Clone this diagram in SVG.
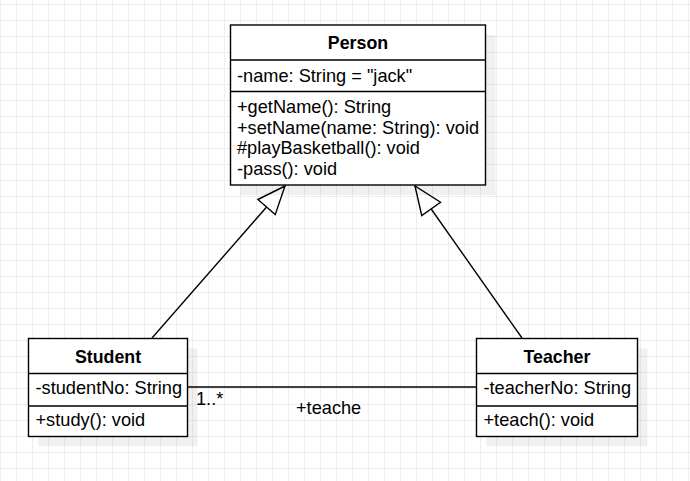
<svg xmlns="http://www.w3.org/2000/svg" width="690" height="481" viewBox="0 0 690 481">
<style>
text{font-family:"Liberation Sans",Arial,sans-serif;font-size:18.2px;fill:#000}
.b{font-weight:bold;text-anchor:middle;font-size:17.8px}
.box{fill:#fff;stroke:#000;stroke-width:1.4}
.sep{stroke:#000;stroke-width:1.4}
.sh{fill:#000;opacity:0.06}
.edge{fill:none;stroke:#000;stroke-width:1.4}
</style>
<defs>
<pattern id="grid" width="16" height="16" x="0" y="4" patternUnits="userSpaceOnUse">
<path d="M0 0.5H16M0.5 0V16" stroke="#eeeeee" stroke-width="1" fill="none"/>
</pattern>
<marker id="inh" viewBox="0 0 30 24" refX="29" refY="12" markerWidth="30" markerHeight="24" markerUnits="userSpaceOnUse" orient="auto" overflow="visible">
<path d="M1 0.5L29 12L1 23.5Z" fill="#fff" stroke="#000" stroke-width="1.4"/>
</marker>
</defs>
<rect width="690" height="481" fill="#fff"/>
<rect width="690" height="481" fill="url(#grid)"/>

<g id="edges">
<path class="edge" d="M152 338L285 186" marker-end="url(#inh)"/>
<path class="edge" d="M522 338L415 186" marker-end="url(#inh)"/>
<path class="edge" d="M188 387H476"/>
<text x="196" y="405">1..*</text>
<text x="296" y="414">+teache</text>
</g>

<g id="person">
<rect class="sh" x="240.5" y="35" width="255" height="160"/>
<rect class="box" x="230.5" y="25" width="255" height="160"/>
<path class="sep" d="M230.5 60H485.5M230.5 91.5H485.5"/>
<text class="b" x="358" y="49">Person</text>
<text x="237" y="81.5">-name: String = "jack"</text>
<text x="237" y="113">+getName(): String</text>
<text x="237" y="133.7">+setName(name: String): void</text>
<text x="237" y="154.3">#playBasketball(): void</text>
<text x="237" y="175">-pass(): void</text>
</g>

<g id="student">
<rect class="sh" x="38.5" y="348.5" width="159" height="98"/>
<rect class="box" x="28.5" y="338.5" width="159" height="98"/>
<path class="sep" d="M28.5 373.5H187.5M28.5 406H187.5"/>
<text class="b" x="108" y="362.5">Student</text>
<text x="35.5" y="393.5">-studentNo: String</text>
<text x="35.5" y="426">+study(): void</text>
</g>

<g id="teacher">
<rect class="sh" x="486.5" y="348.5" width="161" height="98"/>
<rect class="box" x="476.5" y="338.5" width="161" height="98"/>
<path class="sep" d="M476.5 373.5H637.5M476.5 406H637.5"/>
<text class="b" x="557" y="362.5">Teacher</text>
<text x="483.5" y="393.5">-teacherNo: String</text>
<text x="483.5" y="426">+teach(): void</text>
</g>
</svg>
